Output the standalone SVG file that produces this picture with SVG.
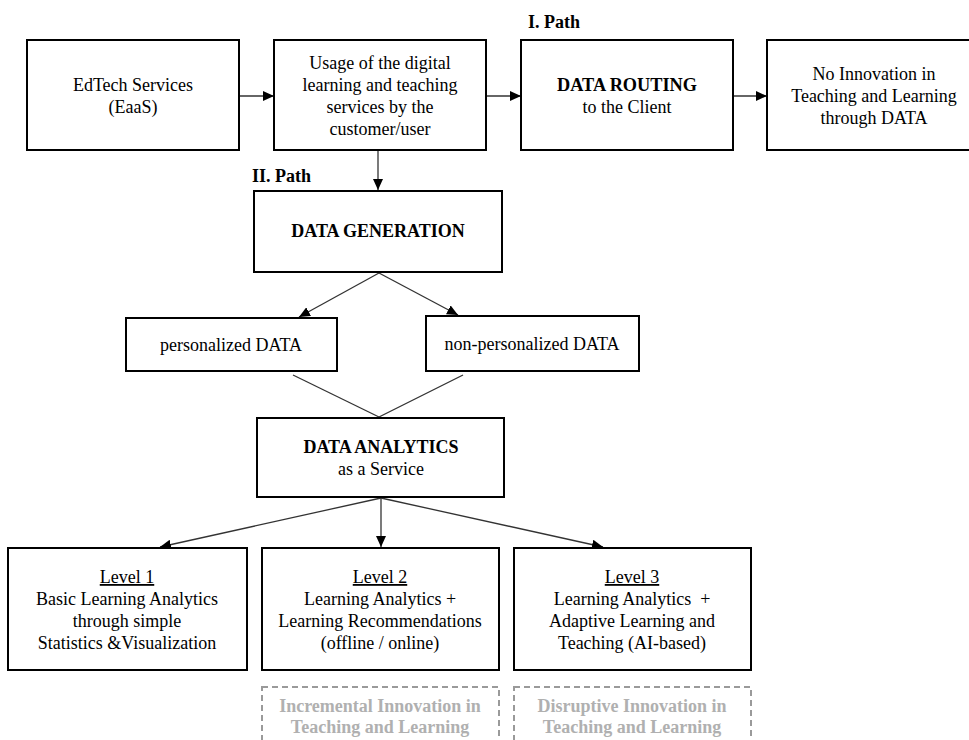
<svg xmlns="http://www.w3.org/2000/svg" width="969" height="740" viewBox="0 0 969 740">
<style>
.box{fill:#fff;stroke:#000;stroke-width:2}
.dash{fill:none;stroke:#9a9a9a;stroke-width:2;stroke-dasharray:6 4}
.t{font-family:"Liberation Serif","Times New Roman",serif;font-size:18px;fill:#000;text-anchor:middle}
.b{font-weight:bold}
.g{font-family:"Liberation Serif","Times New Roman",serif;font-size:18px;font-weight:bold;fill:#b0b0b0;text-anchor:middle}
.lbl{font-family:"Liberation Serif","Times New Roman",serif;font-size:18px;font-weight:bold;fill:#000}
.c{fill:none;stroke:#333;stroke-width:1.3}
.u{text-decoration:underline}
</style>
<defs>
<marker id="ah" markerUnits="userSpaceOnUse" markerWidth="12" markerHeight="10" refX="11" refY="5" orient="auto">
<path d="M0,0 L11,5 L0,10 Z" fill="#000"/>
</marker>
</defs>
<rect width="969" height="740" fill="#fff"/>

<text class="lbl" x="528" y="28">I. Path</text>
<text class="lbl" x="252" y="182">II. Path</text>

<g id="connectors">
<line class="c" x1="239" y1="96" x2="274" y2="96" marker-end="url(#ah)"/>
<line class="c" x1="486" y1="96" x2="521" y2="96" marker-end="url(#ah)"/>
<line class="c" x1="733" y1="96" x2="767" y2="96" marker-end="url(#ah)"/>
<line class="c" x1="378" y1="151" x2="378" y2="190" marker-end="url(#ah)"/>
<line class="c" x1="379" y1="273" x2="299" y2="317" marker-end="url(#ah)"/>
<line class="c" x1="379" y1="273" x2="458" y2="315" marker-end="url(#ah)"/>
<line class="c" x1="293" y1="375" x2="379" y2="417"/>
<line class="c" x1="463" y1="375" x2="379" y2="417"/>
<line class="c" x1="381" y1="498" x2="160" y2="547" marker-end="url(#ah)"/>
<line class="c" x1="381" y1="498" x2="381" y2="547" marker-end="url(#ah)"/>
<line class="c" x1="381" y1="498" x2="603" y2="547" marker-end="url(#ah)"/>
</g>

<g id="edtech">
<rect class="box" x="27" y="40" width="212" height="110"/>
<text class="t" x="133" y="91">EdTech Services</text>
<text class="t" x="133" y="113">(EaaS)</text>
</g>

<g id="usage">
<rect class="box" x="274" y="40" width="212" height="110"/>
<text class="t" x="380" y="69">Usage of the digital</text>
<text class="t" x="380" y="91">learning and teaching</text>
<text class="t" x="380" y="113">services by the</text>
<text class="t" x="380" y="135">customer/user</text>
</g>

<g id="routing">
<rect class="box" x="521" y="40" width="212" height="110"/>
<text class="t b" x="627" y="91" textLength="140" lengthAdjust="spacingAndGlyphs">DATA ROUTING</text>
<text class="t" x="627" y="113">to the Client</text>
</g>

<g id="noinnovation">
<rect class="box" x="767" y="40" width="214" height="110"/>
<text class="t" x="874" y="80">No Innovation in</text>
<text class="t" x="874" y="102">Teaching and Learning</text>
<text class="t" x="874" y="124">through DATA</text>
</g>

<g id="generation">
<rect class="box" x="254" y="191" width="248" height="81"/>
<text class="t b" x="378" y="237">DATA GENERATION</text>
</g>

<g id="personalized">
<rect class="box" x="126" y="318" width="211" height="53"/>
<text class="t" x="231" y="351">personalized DATA</text>
</g>

<g id="nonpersonalized">
<rect class="box" x="426" y="316" width="213" height="55"/>
<text class="t" x="532" y="350">non-personalized DATA</text>
</g>

<g id="analytics">
<rect class="box" x="257" y="418" width="247" height="79"/>
<text class="t b" x="381" y="453">DATA ANALYTICS</text>
<text class="t" x="381" y="475">as a Service</text>
</g>

<g id="level1">
<rect class="box" x="8" y="548" width="239" height="122"/>
<text class="t u" x="127" y="583">Level 1</text>
<text class="t" x="127" y="605">Basic Learning Analytics</text>
<text class="t" x="127" y="627">through simple</text>
<text class="t" x="127" y="649">Statistics &amp;Visualization</text>
</g>

<g id="level2">
<rect class="box" x="262" y="548" width="237" height="122"/>
<text class="t u" x="380" y="583">Level 2</text>
<text class="t" x="380" y="605">Learning Analytics +</text>
<text class="t" x="380" y="627">Learning Recommendations</text>
<text class="t" x="380" y="649">(offline / online)</text>
</g>

<g id="level3">
<rect class="box" x="514" y="548" width="237" height="122"/>
<text class="t u" x="632" y="583">Level 3</text>
<text class="t" x="632" y="605" style="white-space:pre">Learning Analytics  +</text>
<text class="t" x="632" y="627">Adaptive Learning and</text>
<text class="t" x="632" y="649">Teaching (AI-based)</text>
</g>

<g id="incremental">
<rect class="dash" x="262" y="687" width="237" height="70"/>
<text class="g" x="380" y="712">Incremental Innovation in</text>
<text class="g" x="380" y="733">Teaching and Learning</text>
</g>

<g id="disruptive">
<rect class="dash" x="514" y="687" width="237" height="70"/>
<text class="g" x="632" y="712">Disruptive Innovation in</text>
<text class="g" x="632" y="733">Teaching and Learning</text>
</g>
</svg>
